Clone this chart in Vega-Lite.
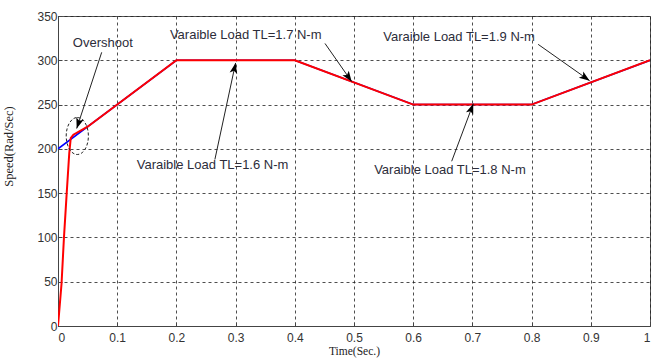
{
  "$schema": "https://vega.github.io/schema/vega-lite/v6.json",
  "width": 592,
  "height": 310,
  "autosize": "none",
  "padding": {"left": 58, "top": 16, "right": 11, "bottom": 32},
  "background": "white",
  "config": {
    "view": {"stroke": "#555", "strokeWidth": 1},
    "axis": {
      "labelFont": "Liberation Sans",
      "labelFontSize": 12,
      "labelColor": "#333",
      "titleFont": "Liberation Serif",
      "titleFontWeight": "normal",
      "titleColor": "#222",
      "domainColor": "#444",
      "tickColor": "#444",
      "tickSize": -4,
      "gridColor": "#222",
      "gridDash": [3, 3],
      "gridOpacity": 0.8,
      "gridWidth": 1
    }
  },
  "datasets": {
    "reference": [
      {"t": 0, "speed": 200},
      {"t": 0.2, "speed": 300},
      {"t": 0.4, "speed": 300},
      {"t": 0.6, "speed": 250},
      {"t": 0.8, "speed": 250},
      {"t": 1.0, "speed": 300}
    ],
    "actual": [
      {"t": 0, "speed": 0},
      {"t": 0.006, "speed": 48},
      {"t": 0.010, "speed": 99},
      {"t": 0.0147, "speed": 150},
      {"t": 0.019, "speed": 195},
      {"t": 0.0215, "speed": 212},
      {"t": 0.026, "speed": 216},
      {"t": 0.05, "speed": 225},
      {"t": 0.2, "speed": 300},
      {"t": 0.4, "speed": 300},
      {"t": 0.6, "speed": 250},
      {"t": 0.8, "speed": 250},
      {"t": 1.0, "speed": 300}
    ],
    "notes": [
      {"label": "Overshoot", "tx": 0.025, "ty": 319, "x": 0.0738, "y": 309, "x2": 0.0316, "y2": 223},
      {"label": "Varaible Load TL=1.6 N-m", "tx": 0.133, "ty": 182, "x": 0.265, "y": 188, "x2": 0.300, "y2": 297},
      {"label": "Varaible Load TL=1.7 N-m", "tx": 0.189, "ty": 328, "x": 0.451, "y": 319, "x2": 0.496, "y2": 276},
      {"label": "Varaible Load TL=1.8 N-m", "tx": 0.534, "ty": 176, "x": 0.665, "y": 186, "x2": 0.7015, "y2": 251},
      {"label": "Varaible Load TL=1.9 N-m", "tx": 0.5495, "ty": 326, "x": 0.811, "y": 318, "x2": 0.898, "y2": 277}
    ],
    "ring": [
      {"t": 0.0326, "speed": 214.5}
    ]
  },
  "layer": [
    {
      "data": {"name": "reference"},
      "mark": {"type": "line", "color": "#0000ff", "strokeWidth": 1.6, "clip": true},
      "encoding": {
        "x": {
          "field": "t", "type": "quantitative",
          "scale": {"domain": [0, 1], "nice": false},
          "axis": {
            "values": [0, 0.1, 0.2, 0.3, 0.4, 0.5, 0.6, 0.7, 0.8, 0.9, 1],
            "format": "~g",
            "title": "Time(Sec.)",
            "titleFontSize": 11.5,
            "labelPadding": 10,
            "titlePadding": 2
          }
        },
        "y": {
          "field": "speed", "type": "quantitative",
          "scale": {"domain": [0, 350], "nice": false},
          "axis": {
            "values": [0, 50, 100, 150, 200, 250, 300, 350],
            "title": "Speed(Rad/Sec)",
            "titleFontSize": 12.5,
            "titleX": -43,
            "titleY": 130,
            "labelPadding": 5
          }
        }
      }
    },
    {
      "data": {"name": "actual"},
      "mark": {"type": "line", "color": "#ff0000", "strokeWidth": 2, "clip": true},
      "encoding": {
        "x": {"field": "t", "type": "quantitative"},
        "y": {"field": "speed", "type": "quantitative"}
      }
    },
    {
      "data": {"name": "ring"},
      "mark": {
        "type": "point",
        "shape": "M0,-1A0.6,1,0,1,1,0,1A0.6,1,0,1,1,0,-1Z",
        "size": 1369,
        "filled": false,
        "stroke": "#222",
        "strokeWidth": 1,
        "strokeDash": [3, 2],
        "opacity": 1
      },
      "encoding": {
        "x": {"field": "t", "type": "quantitative"},
        "y": {"field": "speed", "type": "quantitative"}
      }
    },
    {
      "data": {"name": "notes"},
      "mark": {"type": "rule", "color": "#222", "strokeWidth": 1},
      "encoding": {
        "x": {"field": "x", "type": "quantitative"},
        "y": {"field": "y", "type": "quantitative"},
        "x2": {"field": "x2"},
        "y2": {"field": "y2"}
      }
    },
    {
      "data": {"name": "notes"},
      "transform": [
        {"calculate": "atan2((datum.x2 - datum.x) * 592, (datum.y2 - datum.y) * 310 / 350) * 180 / PI", "as": "heading"}
      ],
      "mark": {
        "type": "point",
        "shape": "M0,0L0.55,1.5L0,1.15L-0.55,1.5Z",
        "size": 196,
        "filled": true,
        "color": "#000",
        "opacity": 1
      },
      "encoding": {
        "x": {"field": "x2", "type": "quantitative"},
        "y": {"field": "y2", "type": "quantitative"},
        "angle": {"field": "heading", "type": "quantitative", "scale": null}
      }
    },
    {
      "data": {"name": "notes"},
      "mark": {
        "type": "text",
        "align": "left",
        "baseline": "middle",
        "font": "Liberation Sans",
        "fontSize": 13,
        "color": "#2d2d3a"
      },
      "encoding": {
        "x": {"field": "tx", "type": "quantitative"},
        "y": {"field": "ty", "type": "quantitative"},
        "text": {"field": "label"}
      }
    }
  ]
}
